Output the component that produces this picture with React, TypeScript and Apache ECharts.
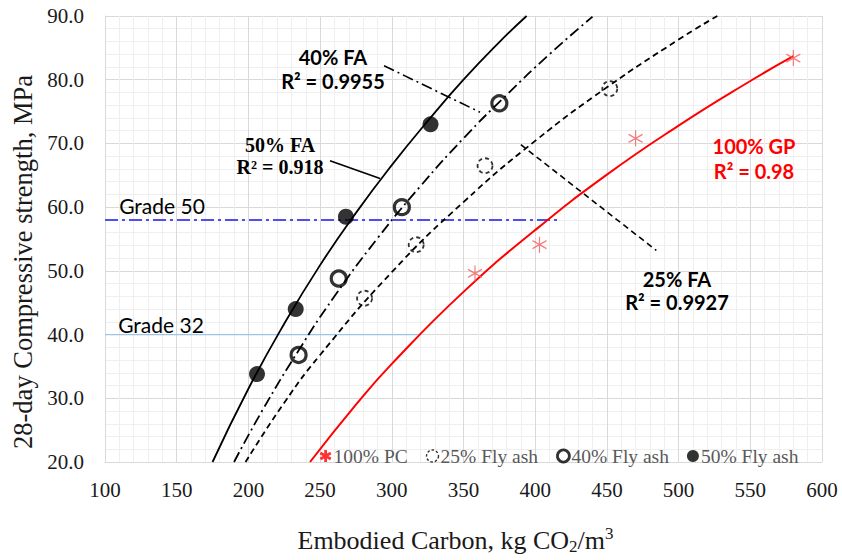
import React, { useEffect, useRef } from "react";
import * as echarts from "echarts";

// Measured points: embodied carbon (kg CO2/m3) vs 28-day strength (MPa)
const FA50_X = [206, 233, 268, 327];
const FA50_Y = [33.8, 44.0, 58.5, 73.0];
const FA40_X = [235, 263, 307, 375];
const FA40_Y = [36.8, 48.8, 60.0, 76.3];
const FA25_X = [281, 317, 365, 452];
const FA25_Y = [45.7, 54.1, 66.5, 78.6];
const GP_X = [358, 403, 470, 580];
const GP_Y = [49.6, 54.1, 70.8, 83.4];

// Trend curves as plotted
const T50_X = [175, 200, 225, 250, 275, 300, 325, 350, 375, 394];
const T50_Y = [20.0, 31.5, 41.7, 50.9, 59.1, 66.6, 73.5, 80.0, 85.9, 90.0];
const T40_X = [190, 210, 235, 260, 290, 320, 350, 380, 410, 440];
const T40_Y = [20.0, 28.2, 37.5, 46.0, 55.1, 63.3, 70.8, 77.6, 84.0, 89.9];
const T25_X = [198, 225, 250, 300, 350, 400, 450, 500, 527];
const T25_Y = [20.0, 29.3, 36.8, 49.8, 60.8, 70.4, 78.8, 86.3, 90.0];
const TGP_X = [243, 275, 300, 350, 400, 450, 500, 550, 580];
const TGP_Y = [20.0, 29.0, 35.4, 46.7, 56.4, 65.1, 72.8, 79.8, 83.7];

// Grade reference lines: [value, x start, x end]
const GRADE50 = [58, 100, 418];
const GRADE32 = [40, 100, 320];

// Leader lines from annotations to curves: [[x1, y1], [x2, y2]]
const LEAD40 = [[294.6, 82.2], [361.5, 74.9]];
const LEAD50 = [[256.9, 67.3], [291.8, 64.5]];
const LEAD25 = [[390.0, 69.8], [484.5, 53.2]];

const X_MIN = 100, X_MAX = 600, X_STEP = 50;
const Y_MIN = 20, Y_MAX = 90, Y_STEP = 10;

const LEGEND_NAMES = ["100% PC", "25% Fly ash", "40% Fly ash", "50% Fly ash"];

const zip = (xs: number[], ys: number[]) => xs.map((x, i) => [x, ys[i]]);

const SERIF = "'Liberation Serif', 'Times New Roman', serif";
const SANS = "Lato, 'Open Sans', sans-serif";

const ASTERISK = "path://M0,-10L0,10M-8.66,-5L8.66,5M-8.66,5L8.66,-5";

export default function App() {
  const ref = useRef<HTMLDivElement>(null);

  useEffect(() => {
    if (!ref.current) return;
    const chart = echarts.init(ref.current, undefined, { renderer: "svg" });

    const trend = (name: string, xs: number[], ys: number[], color: string, type: any, width = 1.8) => ({
      name,
      type: "line",
      data: zip(xs, ys),
      smooth: 0.5,
      showSymbol: false,
      symbol: "none",
      clip: true,
      silent: true,
      z: 2,
      lineStyle: { color, width, type },
    });

    const straight = (name: string, pts: number[][], color: string, type: any, width = 1.5) => ({
      name,
      type: "line",
      data: pts,
      showSymbol: false,
      symbol: "none",
      silent: true,
      z: 1,
      lineStyle: { color, width, type },
    });

    const note = (text: string, x: number, y: number, font: string, color = "#000") => ({
      type: "text",
      x,
      y,
      style: {
        text,
        fill: color,
        font,
        textAlign: "center",
        textVerticalAlign: "middle",
      },
      z: 10,
    });

    const option: any = {
      animation: false,
      backgroundColor: "#fff",
      grid: { left: 105, right: 20, top: 16, bottom: 93, containLabel: false },
      xAxis: {
        type: "value",
        min: X_MIN,
        max: X_MAX,
        interval: X_STEP,
        name: "Embodied Carbon, kg CO{sub|2}/m{sup|3}",
        nameLocation: "middle",
        nameGap: 63,
        nameTextStyle: {
          fontFamily: SERIF,
          fontSize: 26,
          color: "#1a1a1a",
          lineHeight: 30,
          padding: [0, 16, 0, 0],
          rich: {
            sub: { fontFamily: SERIF, fontSize: 17, color: "#1a1a1a", lineHeight: 14, verticalAlign: "bottom" },
            sup: { fontFamily: SERIF, fontSize: 17, color: "#1a1a1a", lineHeight: 16, verticalAlign: "top" },
          },
        },
        axisLine: { show: true, lineStyle: { color: "#d9d9d9", width: 1 } },
        axisTick: { show: false },
        axisLabel: { fontFamily: SERIF, fontSize: 21, color: "#1a1a1a", margin: 17 },
        splitLine: { show: true, lineStyle: { color: "#d9d9d9", width: 1 } },
        minorTick: { show: false, splitNumber: 5 },
        minorSplitLine: { show: true, lineStyle: { color: "#efefef", width: 1 } },
      },
      yAxis: {
        type: "value",
        min: Y_MIN,
        max: Y_MAX,
        interval: Y_STEP,
        name: "28-day Compressive strength, MPa",
        nameLocation: "middle",
        nameGap: 66,
        nameTextStyle: {
          fontFamily: SERIF,
          fontSize: 26.5,
          color: "#1a1a1a",
          padding: [0, 46, 0, 0],
        },
        axisLine: { show: true, lineStyle: { color: "#d9d9d9", width: 1 } },
        axisTick: { show: false },
        axisLabel: {
          fontFamily: SERIF,
          fontSize: 21,
          color: "#1a1a1a",
          margin: 21,
          formatter: (v: number) => v.toFixed(1),
        },
        splitLine: { show: true, lineStyle: { color: "#d9d9d9", width: 1 } },
        minorTick: { show: false, splitNumber: 5 },
        minorSplitLine: { show: true, lineStyle: { color: "#efefef", width: 1 } },
      },
      legend: {
        left: 314,
        top: 441,
        itemGap: 18,
        itemWidth: 12,
        itemHeight: 12,
        selectedMode: false,
        textStyle: { fontFamily: SERIF, fontSize: 19.5, color: "#595959", padding: [0, 0, 0, -3] },
        data: [
          {
            name: LEGEND_NAMES[0],
            icon: ASTERISK,
            itemStyle: { color: "transparent", borderColor: "#ff0000", borderWidth: 2.8 },
          },
          {
            name: LEGEND_NAMES[1],
            icon: "circle",
            itemStyle: { color: "#fff", borderColor: "#000", borderWidth: 1.4, borderType: [2.5, 2] },
          },
          {
            name: LEGEND_NAMES[2],
            icon: "circle",
            itemStyle: { color: "#fff", borderColor: "#000", borderWidth: 2.8 },
          },
          {
            name: LEGEND_NAMES[3],
            icon: "circle",
            itemStyle: { color: "#000", borderColor: "#000", borderWidth: 0 },
          },
        ],
      },
      series: [
        straight("Grade 32", [[GRADE32[1], GRADE32[0]], [GRADE32[2], GRADE32[0]]], "#9dc3e6", "solid", 1.2),
        straight("Grade 50", [[GRADE50[1], GRADE50[0]], [GRADE50[2], GRADE50[0]]], "#4f4ff0", [13, 4, 3, 4], 2),
        trend("50% FA trend", T50_X, T50_Y, "#000", "solid", 1.8),
        trend("40% FA trend", T40_X, T40_Y, "#000", [11, 4, 2, 4], 1.8),
        trend("25% FA trend", T25_X, T25_Y, "#000", [6, 4], 1.8),
        trend("100% GP trend", TGP_X, TGP_Y, "#ff0000", "solid", 2),
        straight("40% FA note", LEAD40, "#000", [11, 4, 2, 4], 1.6),
        straight("50% FA note", LEAD50, "#000", "solid", 1.6),
        straight("25% FA note", LEAD25, "#000", [6, 4], 1.6),
        {
          name: LEGEND_NAMES[0],
          type: "scatter",
          data: zip(GP_X, GP_Y),
          symbol: ASTERISK,
          symbolSize: [14, 16],
          z: 5,
          itemStyle: { color: "transparent", borderColor: "#f25c5c", borderWidth: 1.3 },
        },
        {
          name: LEGEND_NAMES[1],
          type: "scatter",
          data: zip(FA25_X, FA25_Y),
          symbol: "circle",
          symbolSize: 15,
          z: 5,
          itemStyle: { color: "transparent", borderColor: "#000", borderWidth: 1.8, borderType: [4, 3] },
        },
        {
          name: LEGEND_NAMES[2],
          type: "scatter",
          data: zip(FA40_X, FA40_Y),
          symbol: "circle",
          symbolSize: 15,
          z: 5,
          itemStyle: { color: "transparent", borderColor: "#000", borderWidth: 3.2 },
        },
        {
          name: LEGEND_NAMES[3],
          type: "scatter",
          data: zip(FA50_X, FA50_Y),
          symbol: "circle",
          symbolSize: 16,
          z: 5,
          itemStyle: { color: "#000" },
        },
      ],
      graphic: [
        note("Grade 50", 162, 205, `21px ${SANS}`),
        note("Grade 32", 161, 324, `21px ${SANS}`),
        note("40% FA", 333, 57, `bold 20px ${SANS}`),
        note("R² = 0.9955", 333, 81, `bold 20px ${SANS}`),
        note("50% FA", 280, 145, `bold 20px ${SERIF}`),
        note("R² = 0.918", 280, 167, `bold 20px ${SERIF}`),
        note("25% FA", 677, 279, `bold 20px ${SANS}`),
        note("R² = 0.9927", 677, 302, `bold 20px ${SANS}`),
        note("100% GP", 754, 146, `bold 20px ${SANS}`, "#ff0000"),
        note("R² = 0.98", 754, 171, `bold 20px ${SANS}`, "#ff0000"),
      ],
    };

    chart.setOption(option);
    return () => chart.dispose();
  }, []);

  return (
    <div
      ref={ref}
      style={{ position: "fixed", left: 0, top: 0, width: 842, height: 560, background: "#fff" }}
    />
  );
}
